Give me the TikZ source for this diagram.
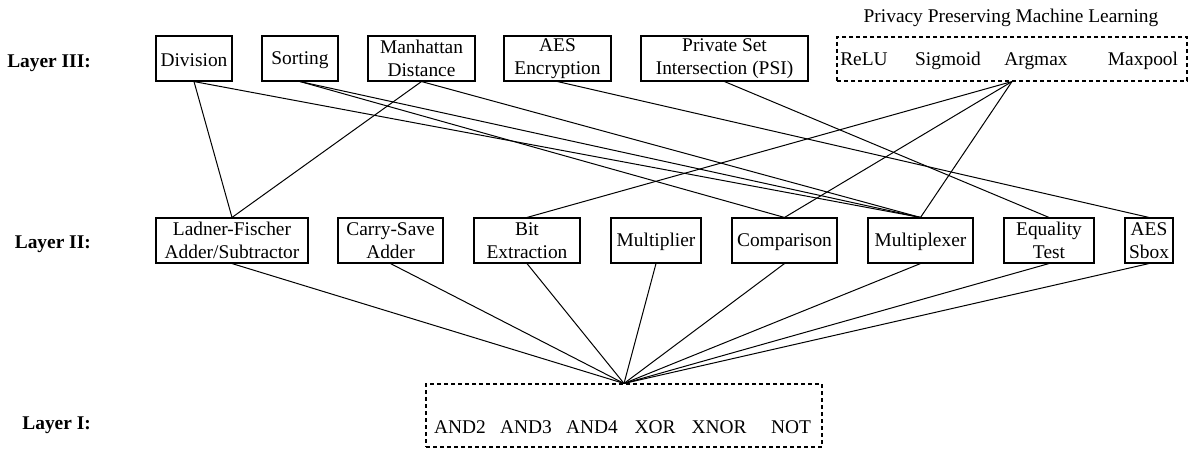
\documentclass[tikz,border=0pt]{standalone}
\usepackage{fontspec}
\setmainfont{Liberation Serif}
\usepackage{tikz}
\usetikzlibrary{positioning}
\newcommand{\diagfont}{\fontsize{19.4pt}{22.8pt}\selectfont}
\tikzset{
    % Operation box
    opnode/.style={
        draw=black,
        fill=white,
        line width=1.1pt,
        minimum height=45pt,
        inner sep=0pt,
        align=center,
        font=\diagfont,
        execute at begin node={\rule{0pt}{17pt}}
    },
    % Dashed group box
    groupbox/.style={
        draw=black,
        dash pattern=on 4pt off 3pt,
        line width=1.1pt,
        inner sep=0pt
    },
    % Item inside a group
    itemtext/.style={
        inner sep=0pt,
        anchor=base,
        font=\diagfont
    },
    % Layer label
    layerlabel/.style={
        anchor=east,
        inner sep=0pt,
        font=\diagfont\bfseries
    },
    % Plain connector
    link/.style={
        line width=1pt,
        draw=black
    }
}
\begin{document}
\begin{tikzpicture}[x=1pt, y=-1pt]
    \useasboundingbox (0,0) rectangle (1190,452);

    % Layer labels
    \node[layerlabel] (l3) at (91,63) {Layer III:};
    \node[layerlabel] (l2) at (91,244) {Layer II:};
    \node[layerlabel] (l1) at (91,425) {Layer I:};

    % Layer III
    \node[opnode, minimum width=76pt] (div) at (194,58.5) {Division};
    \node[opnode, minimum width=76pt] (sort) at (300,58.5) {Sorting};
    \node[opnode, minimum width=107pt] (manh) at (421.5,58.5) {Manhattan\\Distance};
    \node[opnode, minimum width=107pt] (aesenc) at (557.5,58.5) {AES\\Encryption};
    \node[opnode, minimum width=167pt] (psi) at (724.5,58.5) {Private Set\\Intersection (PSI)};
    \node[groupbox, minimum width=350pt, minimum height=44pt] (ppml) at (1012,59) {};
    \node[itemtext] (pmltitle) at (1011,23) {Privacy Preserving Machine Learning};
    \node[itemtext] (relu) at (864,66) {ReLU};
    \node[itemtext] (sigm) at (948,66) {Sigmoid};
    \node[itemtext] (argm) at (1036,66) {Argmax};
    \node[itemtext] (maxp) at (1143,66) {Maxpool};

    % Layer II
    \node[opnode, minimum width=152pt] (lf) at (232,240.5) {Ladner-Fischer\\Adder/Subtractor};
    \node[opnode, minimum width=105pt] (csa) at (390.5,240.5) {Carry-Save\\Adder};
    \node[opnode, minimum width=106pt] (bitx) at (527,240.5) {Bit\\Extraction};
    \node[opnode, minimum width=90pt] (mult) at (656,240.5) {Multiplier};
    \node[opnode, minimum width=105pt] (comp) at (784.5,240.5) {Comparison};
    \node[opnode, minimum width=105pt] (mux) at (920.5,240.5) {Multiplexer};
    \node[opnode, minimum width=90pt] (eqt) at (1049,240.5) {Equality\\Test};
    \node[opnode, minimum width=48pt] (sbox) at (1149,240.5) {AES\\Sbox};

    % Layer I
    \node[groupbox, minimum width=396pt, minimum height=63pt] (gates) at (624,415.5) {};
    \node[itemtext] (and2) at (460,433) {AND2};
    \node[itemtext] (and3) at (526,433) {AND3};
    \node[itemtext] (and4) at (592,433) {AND4};
    \node[itemtext] (xor) at (655,433) {XOR};
    \node[itemtext] (xnor) at (719,433) {XNOR};
    \node[itemtext] (not) at (791,433) {NOT};

    % Layer III to Layer II
    \draw[link] (div.south) -- (lf.north);
    \draw[link] (div.south) -- (mux.north);
    \draw[link] (sort.south) -- (comp.north);
    \draw[link] (sort.south) -- (mux.north);
    \draw[link] (manh.south) -- (lf.north);
    \draw[link] (manh.south) -- (mux.north);
    \draw[link] (aesenc.south) -- (sbox.north);
    \draw[link] (psi.south) -- (eqt.north);
    \draw[link] (ppml.south) -- (bitx.north);
    \draw[link] (ppml.south) -- (comp.north);
    \draw[link] (ppml.south) -- (mux.north);

    % Layer II to Layer I
    \draw[link] (lf.south) -- (gates.north);
    \draw[link] (csa.south) -- (gates.north);
    \draw[link] (bitx.south) -- (gates.north);
    \draw[link] (mult.south) -- (gates.north);
    \draw[link] (comp.south) -- (gates.north);
    \draw[link] (mux.south) -- (gates.north);
    \draw[link] (eqt.south) -- (gates.north);
    \draw[link] (sbox.south) -- (gates.north);
\end{tikzpicture}
\end{document}
